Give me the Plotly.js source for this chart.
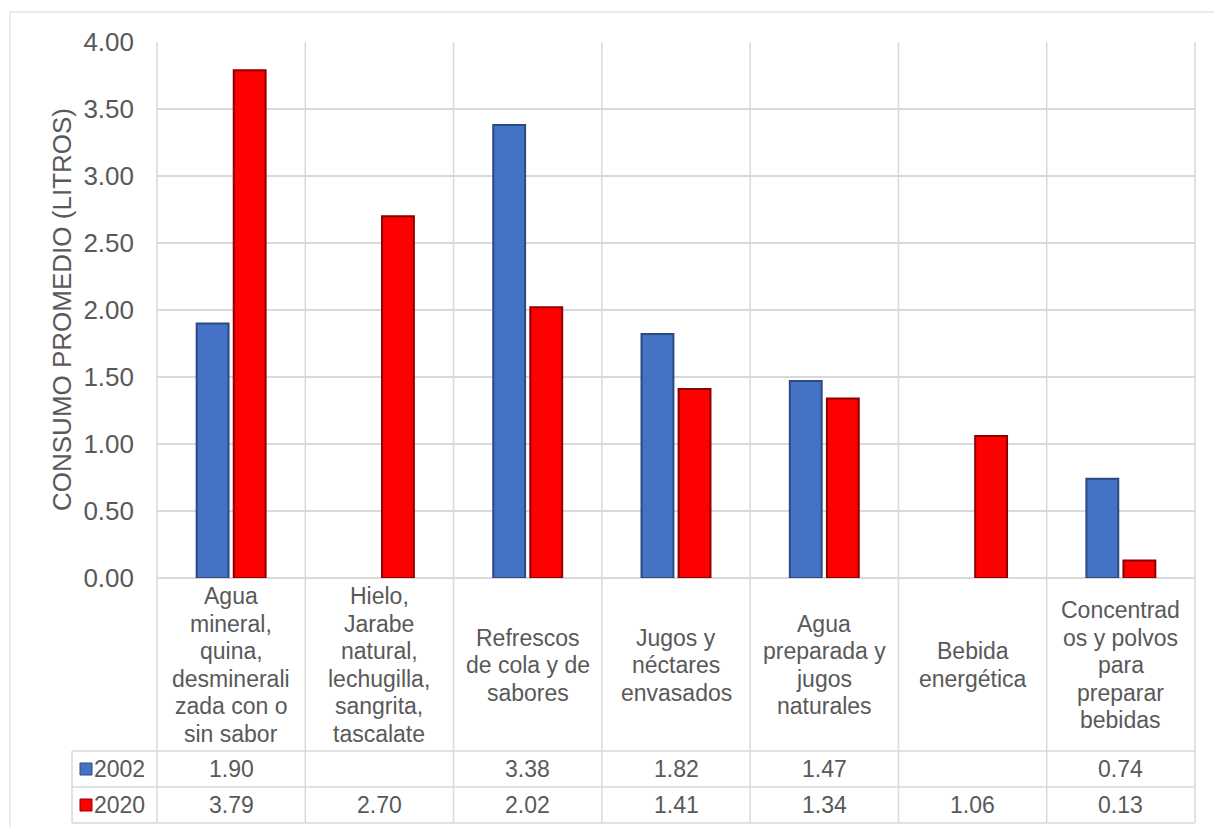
<!DOCTYPE html>
<html>
<head>
<meta charset="utf-8">
<script src="https://cdn.plot.ly/plotly-3.0.1.min.js"></script>
<style>html,body{margin:0;padding:0;background:#fff;}#chart{width:1214px;height:827px;}</style>
</head>
<body>
<div id="chart"></div>
<script>
var categories = [
  "Agua<br>mineral,<br>quina,<br>desminerali<br>zada con o<br>sin sabor",
  "Hielo,<br>Jarabe<br>natural,<br>lechugilla,<br>sangrita,<br>tascalate",
  "Refrescos<br>de cola y de<br>sabores",
  "Jugos y<br>néctares<br>envasados",
  "Agua<br>preparada y<br>jugos<br>naturales",
  "Bebida<br>energética",
  "Concentrad<br>os y polvos<br>para<br>preparar<br>bebidas"
];
var seriesNames = ["2002", "2020"];
var values2002 = [1.90, null, 3.38, 1.82, 1.47, null, 0.74];
var values2020 = [3.79, 2.70, 2.02, 1.41, 1.34, 1.06, 0.13];
var yTitle = "CONSUMO PROMEDIO (LITROS)";

var W = 1214, H = 827;
var mL = 157, mR = 19, mT = 42, mB = 249;
var pw = W - mL - mR, ph = H - mT - mB;
function px(x) { return (x - mL) / pw; }
function py(y) { return (H - mB - y) / ph; }

var textColor = "#595959";
var lineColor = "#d9d9d9";
var fontFam = "Liberation Sans, Arial, sans-serif";
var colors = ["#4472c4", "#ff0000"];
var edgeColors = ["#2c4a82", "#8c0000"];
var tableFont = 23;

var traces = [
  {type: "bar", name: seriesNames[0], x: categories, y: values2002,
   marker: {color: colors[0], line: {color: edgeColors[0], width: 2}}, hoverinfo: "y"},
  {type: "bar", name: seriesNames[1], x: categories, y: values2020,
   marker: {color: colors[1], line: {color: edgeColors[1], width: 2}}, hoverinfo: "y"}
];

var shapes = [];
var annotations = [];
var tableBottom = py(823), row1Top = py(751), row2Top = py(787);
var legLeft = px(72);

for (var k = 0; k <= categories.length; k++) {
  shapes.push({type: "line", xref: "paper", yref: "paper", x0: k / categories.length, x1: k / categories.length,
    y0: 1, y1: tableBottom, line: {color: lineColor, width: 1.5}});
}
[row1Top, row2Top, tableBottom].forEach(function (yy) {
  shapes.push({type: "line", xref: "paper", yref: "paper", x0: legLeft, x1: 1, y0: yy, y1: yy,
    line: {color: lineColor, width: 1.5}});
});
shapes.push({type: "line", xref: "paper", yref: "paper", x0: legLeft, x1: legLeft, y0: row1Top, y1: tableBottom,
  line: {color: lineColor, width: 1.5}});
shapes.push({type: "line", xref: "paper", yref: "paper", x0: px(10), x1: px(1214), y0: py(12), y1: py(12),
  line: {color: lineColor, width: 1}});
shapes.push({type: "line", xref: "paper", yref: "paper", x0: px(10), x1: px(10), y0: py(12), y1: py(827),
  line: {color: lineColor, width: 1}});

// category labels, one annotation per line for Excel-like spacing
var lineStep = 27.5, labelCenter = 665;
categories.forEach(function (c, i) {
  var lines = c.split("<br>");
  lines.forEach(function (ln, j) {
    var yc = labelCenter + (j - (lines.length - 1) / 2) * lineStep;
    annotations.push({xref: "x", yref: "paper", x: i, y: py(yc), text: ln, showarrow: false,
      xanchor: "center", yanchor: "middle", font: {family: fontFam, size: tableFont, color: textColor}});
  });
});
var rows = [values2002, values2020];
var rowCenters = [769, 805];
rows.forEach(function (vals, r) {
  vals.forEach(function (v, i) {
    if (v === null) return;
    annotations.push({xref: "x", yref: "paper", x: i, y: py(rowCenters[r]), text: v.toFixed(2), showarrow: false,
      xanchor: "center", yanchor: "middle", font: {family: fontFam, size: tableFont, color: textColor}});
  });
  shapes.push({type: "rect", xref: "paper", yref: "paper", x0: px(80), x1: px(92),
    y0: py(rowCenters[r] - 6), y1: py(rowCenters[r] + 6),
    fillcolor: colors[r], line: {color: edgeColors[r], width: 1}});
  annotations.push({xref: "paper", yref: "paper", x: px(92), y: py(rowCenters[r]), text: seriesNames[r], showarrow: false,
    xanchor: "left", yanchor: "middle", font: {family: fontFam, size: tableFont, color: textColor}});
});

annotations.push({xref: "paper", yref: "paper", x: px(62), y: 0.5, text: yTitle, textangle: -90, showarrow: false,
  xanchor: "center", yanchor: "middle", font: {family: fontFam, size: 26, color: textColor}});

var layout = {
  width: W, height: H,
  margin: {l: mL, r: mR, t: mT, b: mB, pad: 0},
  paper_bgcolor: "#ffffff", plot_bgcolor: "#ffffff",
  showlegend: false,
  barmode: "group", bargap: 0.5, bargroupgap: 0.14,
  xaxis: {type: "category", showticklabels: false, ticks: "", showgrid: false, zeroline: false,
    showline: false, range: [-0.5, categories.length - 0.5], fixedrange: true},
  yaxis: {range: [0, 4], dtick: 0.5, tick0: 0, tickformat: ".2f", showgrid: true, gridcolor: lineColor, gridwidth: 1.5,
    zeroline: true, zerolinecolor: lineColor, zerolinewidth: 1.5, showline: false, ticks: "",
    ticklabelstandoff: 22,
    tickfont: {family: fontFam, size: 26, color: textColor}, fixedrange: true},
  shapes: shapes,
  annotations: annotations,
  font: {family: fontFam, color: textColor}
};

Plotly.newPlot("chart", traces, layout, {displayModeBar: false, staticPlot: true});
</script>
</body>
</html>
